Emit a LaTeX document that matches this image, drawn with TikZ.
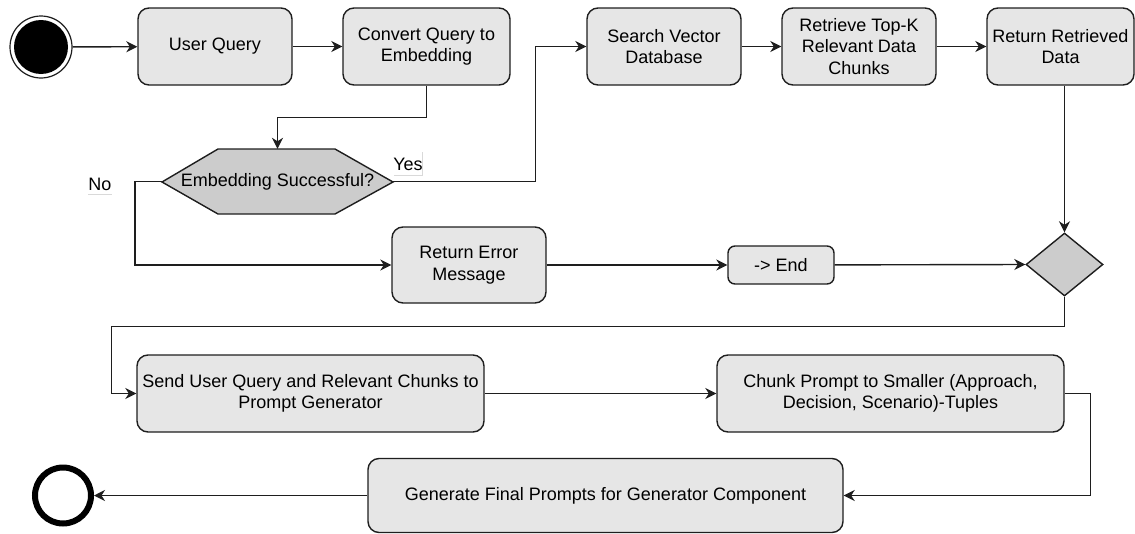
\documentclass[tikz,border=0pt]{standalone}
\usepackage{fontspec}
\setmainfont{Liberation Sans}
\usetikzlibrary{arrows.meta,shapes.geometric}
\definecolor{boxfill}{HTML}{E6E6E6}
\definecolor{decfill}{HTML}{CCCCCC}
\definecolor{edge}{HTML}{1E1E1E}
\begin{document}
\begin{tikzpicture}[x=1pt,y=-1pt,
  every node/.style={font=\fontsize{18}{21.6}\selectfont},
  stepbox/.style={draw=edge, line width=1.4pt, fill=boxfill, rounded corners=11pt,
    align=center, inner sep=0pt, minimum height=77pt},
  flow/.style={draw=edge, line width=1.4pt, -{Stealth[length=11pt,width=11pt,inset=3.5pt]}},
  tag/.style={inner sep=0pt}
]
\useasboundingbox (0,0) rectangle (1135,533);

% start and end markers
\node[circle, draw=edge, line width=1.2pt, fill=white, minimum size=62pt, inner sep=0pt] (start) at (41,47) {};
\fill[black] (start.center) circle[radius=27pt];
\node[circle, draw=black, line width=6pt, fill=white, minimum size=56pt, inner sep=0pt] (finish) at (63,495.5) {};

% activities
\node[stepbox, minimum width=154pt] (uq)     at (215,46.5)   {User Query};
\node[stepbox, minimum width=167pt] (conv)   at (426.5,46.5) {Convert Query to\\Embedding};
\node[stepbox, minimum width=154pt] (search) at (664,46.5)   {Search Vector\\Database};
\node[stepbox, minimum width=154pt] (retr)   at (859,46.5)   {Retrieve Top-K\\Relevant Data\\Chunks};
\node[stepbox, minimum width=147pt] (ret)    at (1060.5,46.5){Return Retrieved\\Data};
\node[stepbox, minimum width=154pt, minimum height=76pt] (err) at (469,265) {Return Error\\Message};
\node[stepbox, minimum width=106pt, minimum height=38pt, rounded corners=7pt] (endb) at (781,265) {-> End};
\node[stepbox, minimum width=347pt] (send)  at (310.5,393.5) {Send User Query and Relevant Chunks to\\Prompt Generator};
\node[stepbox, minimum width=347pt] (chunk) at (890.5,393.5) {Chunk Prompt to Smaller (Approach,\\Decision, Scenario)-Tuples};
\node[stepbox, minimum width=475pt, minimum height=74pt] (gen) at (605.5,495.5) {Generate Final Prompts for Generator Component};

% decision: hexagon with the question, and the merge diamond
\fill[decfill] (162,182) -- (218,149) -- (335,149) -- (393,182) -- (335,214) -- (218,214) -- cycle;
\draw[edge, line width=1.4pt, line join=miter] (162,182) -- (218,149) -- (335,149) -- (393,182) -- (335,214) -- (218,214) -- cycle;
\node[minimum width=231pt, minimum height=65pt, inner sep=0pt] (dec) at (277.5,181.5) {Embedding Successful?};
\node[diamond, draw=edge, line width=1.4pt, fill=decfill, minimum width=77pt, minimum height=63pt, inner sep=0pt] (merge) at (1064.5,264.5) {};

% branch labels
\node[tag] (yes) at (408,164) {Yes};
\node[tag] (no)  at (100,184) {No};
\draw[gray!30, line width=0.8pt] (394,175) -- (422,175) -- (422,152);
\draw[gray!30, line width=0.8pt] (88,194) -- (112,194);

% connectors
\draw[flow] (start) -- (uq);
\draw[flow] (uq) -- (conv);
\draw[flow] (conv.south) |- ++(0,32) -| (dec.north);
\draw[flow] (dec.east) -| ([xshift=-51pt]search.west) -- (search.west);
\draw[flow] (search) -- (retr);
\draw[flow] (retr) -- (ret);
\draw[flow] (merge.north |- ret.south) -- (merge.north);
\draw[flow] (dec.west) -- ++(-27,0) |- (err.west);
\draw[flow] (err) -- (endb);
\draw[flow] (endb) -- (merge.west);
\draw[flow] (merge.south) -- ++(0,30) -| ([xshift=-25pt]send.west) -- (send.west);
\draw[flow] (send) -- (chunk);
\draw[flow] (chunk.east) -- ++(26,0) |- (gen.east);
\draw[flow] (gen.west) -- (finish.east);
\end{tikzpicture}
\end{document}
